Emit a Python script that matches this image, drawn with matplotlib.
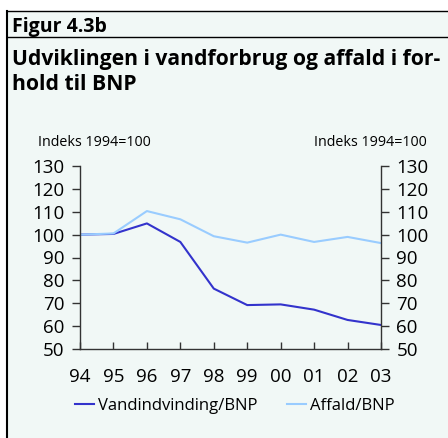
import matplotlib
matplotlib.use("Agg")
import matplotlib.pyplot as plt
from matplotlib.lines import Line2D

years = ["94", "95", "96", "97", "98", "99", "00", "01", "02", "03"]
vand = [100, 100.3, 104.9, 96.8, 76.4, 69.2, 69.5, 67.2, 62.7, 60.5]
affald = [100, 100.5, 110.3, 106.7, 99.3, 96.5, 100, 96.8, 99, 96.3]
series_names = ["Vandindvinding/BNP", "Affald/BNP"]
yticks = [50, 60, 70, 80, 90, 100, 110, 120, 130]

W, H = 448, 438
bg = "#f1f8f6"
c_vand = "#3333cc"
c_aff = "#99ccff"
plt.rcParams['font.family'] = ['Open Sans', 'DejaVu Sans']

fig = plt.figure(figsize=(W / 100, H / 100), dpi=100)
fig.patch.set_facecolor("white")

def fx(px):
    return px / W

def fy(py):
    return 1 - py / H

# mint panel
fig.add_artist(plt.Rectangle((fx(7), 0), 1 - fx(7), fy(11), transform=fig.transFigure,
                             facecolor=bg, edgecolor="none", zorder=-5))
fig.add_artist(Line2D([fx(7), fx(7)], [0, fy(11)], color="black", lw=1.5))
fig.add_artist(Line2D([fx(7), 1], [fy(11), fy(11)], color="black", lw=1.0))
fig.add_artist(Line2D([fx(7), 1], [fy(37), fy(37)], color="black", lw=1.0))

fig.text(fx(12), fy(32), "Figur 4.3b", fontsize=14.0, fontweight="bold", va="baseline")
fig.text(fx(12), fy(65.5), "Udviklingen i vandforbrug og affald i for-", fontsize=15.2,
         fontweight="bold", va="baseline")
fig.text(fx(12), fy(90), "hold til BNP", fontsize=15.2, fontweight="bold", va="baseline")

ax = fig.add_axes([fx(80), fy(349), fx(381) - fx(80), fy(166) - fy(349)])
ax.set_facecolor("none")
x = list(range(len(years)))
ax.plot(x, vand, color=c_vand, lw=1.5, label=series_names[0])
ax.plot(x, affald, color=c_aff, lw=1.5, label=series_names[1])
ax.set_xlim(0, len(years) - 1)
ax.set_ylim(50, 130)
ax.set_yticks(yticks)
ax.set_xticks(x)
ax.set_xticklabels(years)
for s in ["top"]:
    ax.spines[s].set_visible(False)
for s in ["left", "right", "bottom"]:
    ax.spines[s].set_color("#333333")
    ax.spines[s].set_linewidth(1.0)
ax.tick_params(axis="y", which="both", left=True, right=True, labelleft=True, labelright=True,
               direction="out", length=6, width=1, color="#333333", labelsize=13.5, pad=5)
ax.tick_params(axis="x", direction="in", length=5, width=1, color="#333333", labelsize=13.5, pad=14)

fig.text(fx(38), fy(146), "Indeks 1994=100", fontsize=10.3, va="baseline")
fig.text(fx(427), fy(146), "Indeks 1994=100", fontsize=10.3, va="baseline", ha="right")

handles = [Line2D([0], [0], color=c_vand, lw=1.5), Line2D([0], [0], color=c_aff, lw=1.5)]
fig.legend(handles, series_names, loc="center", bbox_to_anchor=(fx(235), fy(406)), ncol=2,
           frameon=False, fontsize=12.0, handlelength=1.15, handletextpad=0.25,
           columnspacing=1.75, borderpad=0, borderaxespad=0)

fig.savefig("out.png", dpi=100, facecolor=fig.get_facecolor())
